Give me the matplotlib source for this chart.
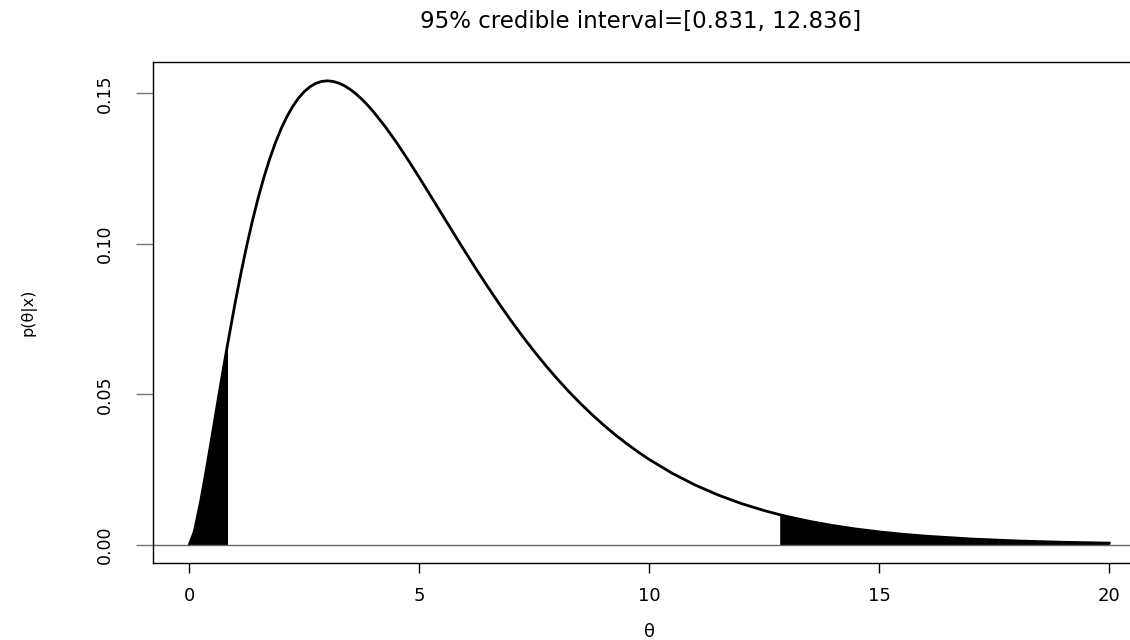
import matplotlib.pyplot as plt

plt.rcParams['font.family'] = ['DejaVu Sans']

# density values
theta = [0, 0.1, 0.125, 0.25, 0.375, 0.5, 0.625, 0.75, 0.831, 1, 1.125, 1.25, 1.375,
         1.5, 1.625, 1.75, 1.875, 2, 2.125, 2.25, 2.375, 2.5, 2.625, 2.75, 2.875,
         3, 3.125, 3.25, 3.375, 3.5, 3.625, 3.75, 3.875, 4, 4.25, 4.5, 4.75,
         5, 5.25, 5.5, 5.75, 6, 6.25, 6.5, 6.75, 7, 7.25, 7.5, 7.75, 8, 8.25,
         8.5, 8.75, 9, 9.25, 9.5, 9.75, 10, 10.5, 11, 11.5, 12, 12.5, 12.836,
         13, 13.5, 14, 14.5, 15, 15.5, 16, 17, 18, 19, 20]
dens = [0, 0.0040, 0.005521, 0.01467, 0.02532, 0.03662, 0.04807, 0.05936, 0.06649,
        0.08066, 0.09041, 0.09947, 0.10781, 0.11540, 0.12224, 0.12833, 0.13370,
        0.13837, 0.14236, 0.14570, 0.14844, 0.15060, 0.15222, 0.15333, 0.15397,
        0.15418, 0.15398, 0.15342, 0.15252, 0.15131, 0.14982, 0.14809, 0.14613,
        0.14397, 0.13915, 0.13380, 0.12805, 0.12204, 0.11588, 0.10965, 0.10344,
        0.09730, 0.09129, 0.08545, 0.07980, 0.07437, 0.06918, 0.06423, 0.05954,
        0.05511, 0.05093, 0.04701, 0.04333, 0.03989, 0.03668, 0.03369, 0.03091,
        0.02833, 0.02374, 0.01983, 0.01651, 0.01370, 0.01135, 0.00998, 0.00937,
        0.00772, 0.00635, 0.00521, 0.00427, 0.00350, 0.00286, 0.00190, 0.00125,
        0.000824, 0.000540]
lower = 0.831
upper = 12.836
xticks = [0, 5, 10, 15, 20]
yticks = [0.00, 0.05, 0.10, 0.15]

fig = plt.figure(figsize=(11.3, 6.4), dpi=100)
ax = fig.add_axes([152.5 / 1130, (640 - 563.3) / 640, (1146 - 152.5) / 1130, (563.3 - 62.1) / 640])
ax.patch.set_visible(False)

ax.plot(theta, dens, color='black', lw=2, solid_joinstyle='round')
ax.axhline(0, color='#666666', lw=1)

lx = [t for t in theta if t <= lower]
ly = [d for t, d in zip(theta, dens) if t <= lower]
ux = [t for t in theta if t >= upper]
uy = [d for t, d in zip(theta, dens) if t >= upper]
ax.fill_between(lx, 0, ly, color='black', lw=0)
ax.fill_between(ux, 0, uy, color='black', lw=0)

ax.set_xlim(-0.8, 20.8)
ax.set_ylim(-0.00617, 0.1604)
ax.set_xticks(xticks)
ax.set_xticklabels([str(t) for t in xticks])
ax.set_yticks(yticks)
ax.set_yticklabels(['%.2f' % t for t in yticks], rotation=90, va='center')
ax.tick_params(axis='x', length=7, width=1, labelsize=13, pad=10, color='black')
ax.tick_params(axis='y', length=12, width=1, labelsize=12.5, pad=16, color='#777777')
ax.spines['right'].set_visible(False)
for s in ax.spines.values():
    s.set_linewidth(1)

ax.set_xlabel('θ', fontsize=13, va='center')
ax.xaxis.set_label_coords(0.5, (563.3 - 632) / 501.2)
ax.set_ylabel('p(θ|x)', fontsize=11.5, va='center')
ax.yaxis.set_label_coords((28 - 152.5) / 993.5, 0.5)
fig.text(641 / 1130, 1 - 21.5 / 640, '95% credible interval=[0.831, 12.836]',
         fontsize=16.5, ha='center', va='center')

fig.savefig('out.png')
